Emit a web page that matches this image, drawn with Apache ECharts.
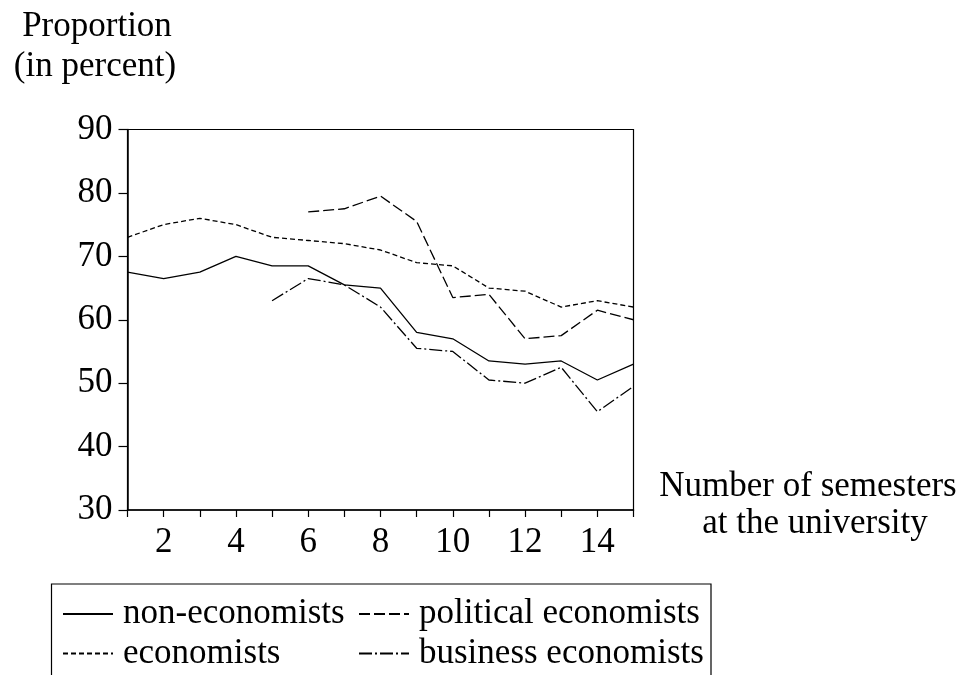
<!DOCTYPE html>
<html>
<head>
<meta charset="utf-8">
<script src="https://cdn.jsdelivr.net/npm/echarts@6/dist/echarts.min.js"></script>
<style>
  html, body { margin: 0; padding: 0; background: #fff; }
  #chart { width: 969px; height: 675px; }
</style>
</head>
<body>
<div id="chart"></div>
<script>
// Share of students (in percent) by number of semesters at the university
var semesters = [1, 2, 3, 4, 5, 6, 7, 8, 9, 10, 11, 12, 13, 14, 15];
var nonEconomists = [67.5, 66.5, 67.5, 70, 68.5, 68.5, 65.5, 65, 58, 57, 53.5, 53, 53.5, 50.5, 53];
var economists = [73, 75, 76, 75, 73, 72.5, 72, 71, 69, 68.5, 65, 64.5, 62, 63, 62];
var politicalEconomists = [null, null, null, null, null, 77, 77.5, 79.5, 75.5, 63.5, 64, 57, 57.5, 61.5, 60];
var businessEconomists = [null, null, null, null, 63, 66.5, 65.5, 62, 55.5, 55, 50.5, 50, 52.5, 45.5, 49.5];
var yTicks = [30, 40, 50, 60, 70, 80, 90];

var FONT = '"Liberation Serif", "Times New Roman", serif';

function pairs(values) {
  var out = [];
  for (var i = 0; i < semesters.length; i++) {
    if (values[i] !== null) out.push([semesters[i], values[i]]);
  }
  return out;
}

function lineSeries(name, values, dash) {
  return {
    name: name,
    type: 'line',
    data: pairs(values),
    symbol: 'none',
    lineStyle: { color: '#000', width: 1.3, type: dash },
    itemStyle: { color: '#000' }
  };
}

var legendText = { fontFamily: FONT, fontSize: 35, color: '#000', lineHeight: 36, padding: [0, 0, 0, 5] };
// legend samples show only the line style, no point marker
var legendItem = { color: 'rgba(0,0,0,0)', borderWidth: 0, borderColor: 'rgba(0,0,0,0)' };

var chart = echarts.init(document.getElementById('chart'), null, { renderer: 'canvas' });
chart.setOption({
  animation: false,
  backgroundColor: '#fff',
  grid: {
    left: 127.5, top: 129.5, width: 506, height: 380.5,
    show: true, borderColor: '#000', borderWidth: 1.2, backgroundColor: 'transparent'
  },
  xAxis: {
    type: 'value',
    min: 1, max: 15, interval: 1,
    axisLine: { lineStyle: { color: '#000', width: 1.5 } },
    axisTick: { length: 7, lineStyle: { color: '#000', width: 1.2 } },
    splitLine: { show: false },
    axisLabel: {
      margin: 15,
      fontFamily: FONT, fontSize: 35, color: '#000',
      formatter: function (v) { return v % 2 === 0 ? String(v) : ''; }
    }
  },
  yAxis: {
    type: 'value',
    min: yTicks[0], max: yTicks[yTicks.length - 1], interval: 10,
    axisLine: { show: true, lineStyle: { color: '#000', width: 1.5 } },
    axisTick: { show: true, length: 9, lineStyle: { color: '#000', width: 1.2 } },
    splitLine: { show: false },
    axisLabel: {
      margin: 15,
      padding: [0, 0, 14, 0],
      fontFamily: FONT, fontSize: 35, color: '#000'
    }
  },
  legend: [
    {
      data: ['non-economists', 'economists'],
      orient: 'vertical', left: 62, top: 596,
      itemWidth: 50, itemHeight: 12, itemGap: 3.5, padding: 0,
      itemStyle: legendItem,
      textStyle: legendText
    },
    {
      data: ['political economists', 'business economists'],
      orient: 'vertical', left: 358, top: 596,
      itemWidth: 50, itemHeight: 12, itemGap: 3.5, padding: 0,
      itemStyle: legendItem,
      textStyle: legendText
    }
  ],
  graphic: [
    {
      type: 'text',
      style: { text: 'Proportion', x: 97, y: 27, font: '35px ' + FONT, fill: '#000',
               align: 'center', verticalAlign: 'middle', textAlign: 'center', textVerticalAlign: 'middle' }
    },
    {
      type: 'text',
      style: { text: '(in percent)', x: 95, y: 67, font: '35px ' + FONT, fill: '#000',
               align: 'center', verticalAlign: 'middle', textAlign: 'center', textVerticalAlign: 'middle' }
    },
    {
      type: 'text',
      style: { text: 'Number of semesters', x: 808, y: 487, font: '35px ' + FONT, fill: '#000',
               align: 'center', verticalAlign: 'middle', textAlign: 'center', textVerticalAlign: 'middle' }
    },
    {
      type: 'text',
      style: { text: 'at the university', x: 815, y: 524, font: '35px ' + FONT, fill: '#000',
               align: 'center', verticalAlign: 'middle', textAlign: 'center', textVerticalAlign: 'middle' }
    },
    {
      // open-bottom frame around the legend
      type: 'polyline',
      shape: { points: [[51.5, 680], [51.5, 584], [711, 584], [711, 680]] },
      style: { stroke: '#000', lineWidth: 1.2, fill: null }
    }
  ],
  series: [
    lineSeries('non-economists', nonEconomists, 'solid'),
    lineSeries('economists', economists, [5, 3]),
    lineSeries('political economists', politicalEconomists, [11, 4]),
    lineSeries('business economists', businessEconomists, [13, 3, 2, 3])
  ]
});
</script>
</body>
</html>
